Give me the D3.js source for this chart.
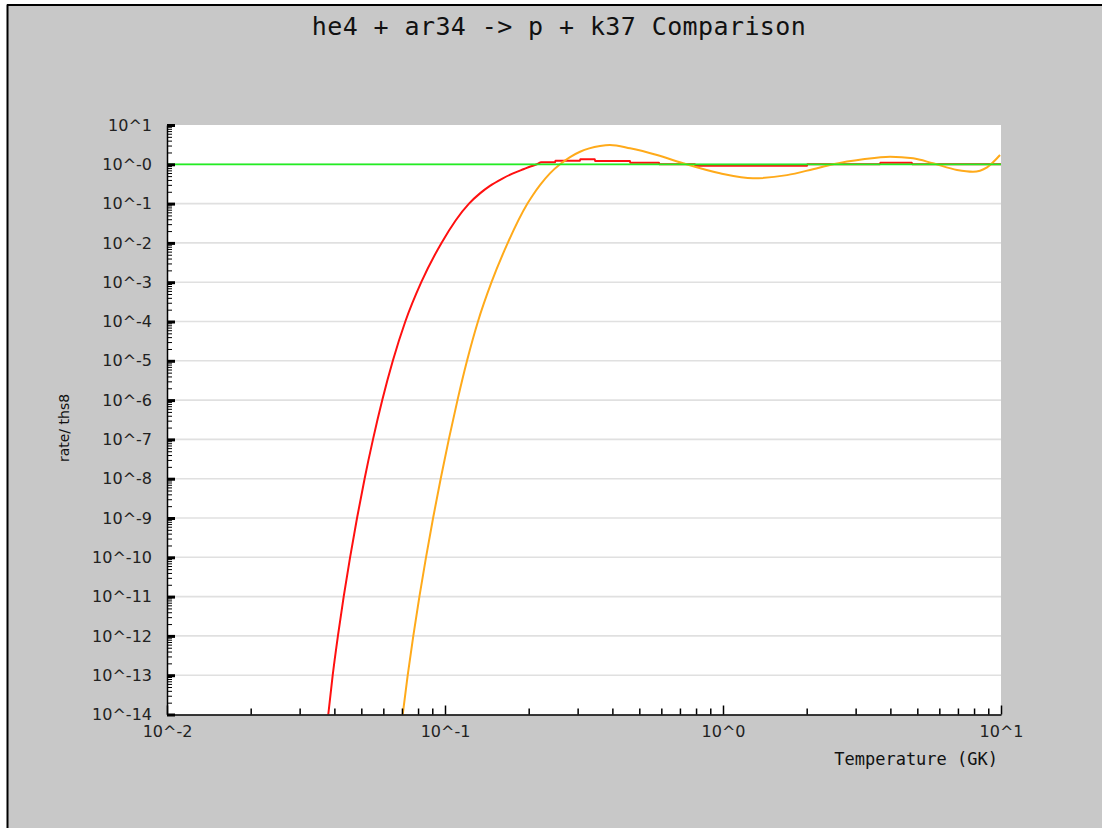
<!DOCTYPE html>
<html>
<head>
<meta charset="utf-8">
<script src="https://cdn.jsdelivr.net/npm/d3@7"></script>
<style>
  html, body { margin: 0; padding: 0; background: #ffffff; }
  svg { display: block; }
</style>
</head>
<body>
<script>
// ---------------- data ----------------
const titleText = "he4 + ar34 -> p + k37 Comparison";
const xLabelText = "Temperature (GK)";
const yLabelText = "rate/ ths8";

const xTickValues = [0.01, 0.1, 1, 10];
const xTickLabels = ["10^-2", "10^-1", "10^0", "10^1"];

const yTickValues = [1e1, 1e0, 1e-1, 1e-2, 1e-3, 1e-4, 1e-5, 1e-6, 1e-7, 1e-8, 1e-9, 1e-10, 1e-11, 1e-12, 1e-13, 1e-14];
const yTickLabels = ["10^1", "10^-0", "10^-1", "10^-2", "10^-3", "10^-4", "10^-5", "10^-6", "10^-7", "10^-8", "10^-9", "10^-10", "10^-11", "10^-12", "10^-13", "10^-14"];

// red series (temperature GK, ratio)
const redT = [0.03803, 0.03945, 0.04119, 0.04321, 0.04556, 0.04826, 0.05138, 0.05508, 0.05948, 0.06491, 0.07199, 0.08216, 0.09714,
              0.1220, 0.1336, 0.1451, 0.1603, 0.1757, 0.1924, 0.2039, 0.2142,
              0.222, 0.249, 0.2495, 0.306, 0.3065, 0.346, 0.3465, 0.463, 0.4635, 0.589, 0.5895, 0.793, 0.7935, 2.005, 2.01, 3.67, 3.68, 4.78, 4.79, 10];
const redV = [1e-14, 1e-13, 1e-12, 1e-11, 1e-10, 1e-9, 1e-8, 1e-7, 1e-6, 1e-5, 1e-4, 1e-3, 1e-2,
              0.1, 0.182, 0.282, 0.427, 0.589, 0.759, 0.891, 1.0,
              1.12, 1.12, 1.24, 1.24, 1.34, 1.34, 1.21, 1.21, 1.10, 1.10, 1.0, 1.0, 0.92, 0.92, 1.0, 1.0, 1.10, 1.10, 1.0, 1.0];

// orange series
const orangeT = [0.07045, 0.07343, 0.07691, 0.08089, 0.08544, 0.09061, 0.09649, 0.1032, 0.1109, 0.1200, 0.1314, 0.1470, 0.1682, 0.1980,
                 0.2072, 0.2196, 0.2385, 0.2593, 0.2817, 0.306,
                 0.361, 0.392, 0.463, 0.579, 0.718, 0.975, 1.282, 1.699, 2.107, 2.487, 3.19, 3.99, 4.83, 5.69, 6.95, 7.93, 8.91, 9.92];
const orangeV = [1e-14, 1e-13, 1e-12, 1e-11, 1e-10, 1e-9, 1e-8, 1e-7, 1e-6, 1e-5, 1e-4, 1e-3, 1e-2, 0.1,
                 0.166, 0.295, 0.589, 1.0, 1.53, 2.09,
                 2.92, 3.10, 2.55, 1.72, 1.06, 0.59, 0.44, 0.53, 0.75, 1.0, 1.34, 1.56, 1.42, 1.06, 0.72, 0.65, 0.84, 1.72];

// reference line (ratio = 1)
const refT = [0.01, 10];
const refV = [1, 1];

// ---------------- layout ----------------
const W = 1102, H = 828;
const plot = { left: 167, right: 1001, top: 125, bottom: 714.5 };

const svg = d3.select("body").append("svg").attr("width", W).attr("height", H);

// background with white margin + black frame lines
svg.append("rect").attr("x", 0).attr("y", 0).attr("width", W).attr("height", H).attr("fill", "#ffffff");
svg.append("rect").attr("x", 7).attr("y", 5).attr("width", W - 7).attr("height", H - 5).attr("fill", "#c8c8c8");
svg.append("line").attr("x1", 7.5).attr("x2", 7.5).attr("y1", 4.5).attr("y2", H).attr("stroke", "#000").attr("stroke-width", 2);
svg.append("line").attr("x1", 7).attr("x2", W).attr("y1", 5).attr("y2", 5).attr("stroke", "#000").attr("stroke-width", 2);

const x = d3.scaleLog().domain([0.01, 10]).range([plot.left, plot.right]);
const y = d3.scaleLog().domain([1e-14, 10]).range([plot.bottom, plot.top]);

// plot background
svg.append("rect")
  .attr("x", plot.left).attr("y", plot.top)
  .attr("width", plot.right - plot.left).attr("height", plot.bottom - plot.top)
  .attr("fill", "#ffffff");

// gridlines
svg.append("g").selectAll("line")
  .data(yTickValues.filter(v => v < 10 && v > 1e-14))
  .join("line")
  .attr("x1", plot.left).attr("x2", plot.right)
  .attr("y1", d => y(d)).attr("y2", d => y(d))
  .attr("stroke", "#e0e0e0").attr("stroke-width", 1.6);

// clip
svg.append("clipPath").attr("id", "clip").append("rect")
  .attr("x", plot.left).attr("y", plot.top)
  .attr("width", plot.right - plot.left).attr("height", plot.bottom - plot.top);

const lineGen = (curve) => d3.line().x(d => x(d[0])).y(d => y(d[1])).curve(curve);
const g = svg.append("g").attr("clip-path", "url(#clip)");

g.append("path").datum(redT.map((t, i) => [t, redV[i]]))
  .attr("d", lineGen(d3.curveMonotoneX)).attr("fill", "none")
  .attr("stroke", "#ff1010").attr("stroke-width", 2);

g.append("path").datum(orangeT.map((t, i) => [t, orangeV[i]]))
  .attr("d", lineGen(d3.curveMonotoneX)).attr("fill", "none")
  .attr("stroke", "#ffaa1a").attr("stroke-width", 2);

g.append("path").datum(refT.map((t, i) => [t, refV[i]]))
  .attr("d", lineGen(d3.curveLinear)).attr("fill", "none")
  .attr("stroke", "#22ee22").attr("stroke-width", 1.8);

// minor tick values
const yMinor = [];
for (let e = -14; e < 1; e++) for (let m = 2; m <= 9; m++) yMinor.push(m * Math.pow(10, e));
const xMinor = [];
for (let e = -2; e < 1; e++) for (let m = 2; m <= 9; m++) xMinor.push(m * Math.pow(10, e));

const tickFont = "'DejaVu Sans', sans-serif";

// y axis
const yMinorAxis = svg.append("g").attr("transform", `translate(${plot.left},0)`)
  .call(d3.axisLeft(y).tickValues(yMinor).tickSize(-5).tickSizeOuter(0).tickFormat(""));
yMinorAxis.select(".domain").remove();
yMinorAxis.selectAll(".tick line").attr("stroke", "#000").attr("stroke-width", 1);

const yAxis = svg.append("g").attr("transform", `translate(${plot.left},0)`)
  .call(d3.axisLeft(y).tickValues(yTickValues).tickSize(-8).tickSizeOuter(0).tickPadding(15)
    .tickFormat((d, i) => yTickLabels[i]));
yAxis.select(".domain").attr("stroke", "#000").attr("stroke-width", 1.5);
yAxis.selectAll(".tick line").attr("stroke", "#000").attr("stroke-width", 3);
yAxis.selectAll(".tick text").attr("font-family", tickFont).attr("font-size", 16).attr("fill", "#222");

// x axis
const xMinorAxis = svg.append("g").attr("transform", `translate(0,${plot.bottom})`)
  .call(d3.axisBottom(x).tickValues(xMinor).tickSize(-6).tickSizeOuter(0).tickFormat(""));
xMinorAxis.select(".domain").remove();
xMinorAxis.selectAll(".tick line").attr("stroke", "#000").attr("stroke-width", 1.5);

const xAxis = svg.append("g").attr("transform", `translate(0,${plot.bottom})`)
  .call(d3.axisBottom(x).tickValues(xTickValues).tickSize(-9).tickSizeOuter(0).tickPadding(11)
    .tickFormat((d, i) => xTickLabels[i]));
xAxis.select(".domain").attr("stroke", "#000").attr("stroke-width", 1.5);
xAxis.selectAll(".tick line").attr("stroke", "#000").attr("stroke-width", 1.5);
xAxis.selectAll(".tick text").attr("font-family", tickFont).attr("font-size", 16).attr("fill", "#222");

// title
svg.append("text")
  .attr("x", 559).attr("y", 35)
  .attr("text-anchor", "middle")
  .attr("font-family", "'DejaVu Sans Mono', monospace")
  .attr("font-size", 25)
  .attr("letter-spacing", 0.4)
  .attr("fill", "#111")
  .text(titleText);

// x axis label
svg.append("text")
  .attr("x", 998).attr("y", 765)
  .attr("text-anchor", "end")
  .attr("font-family", "'DejaVu Sans Mono', monospace")
  .attr("font-size", 17)
  .attr("fill", "#111")
  .text(xLabelText);

// y axis label
svg.append("text")
  .attr("transform", "translate(69,428) rotate(-90)")
  .attr("text-anchor", "middle")
  .attr("font-family", tickFont)
  .attr("font-size", 14)
  .attr("fill", "#111")
  .text(yLabelText);
</script>
</body>
</html>
